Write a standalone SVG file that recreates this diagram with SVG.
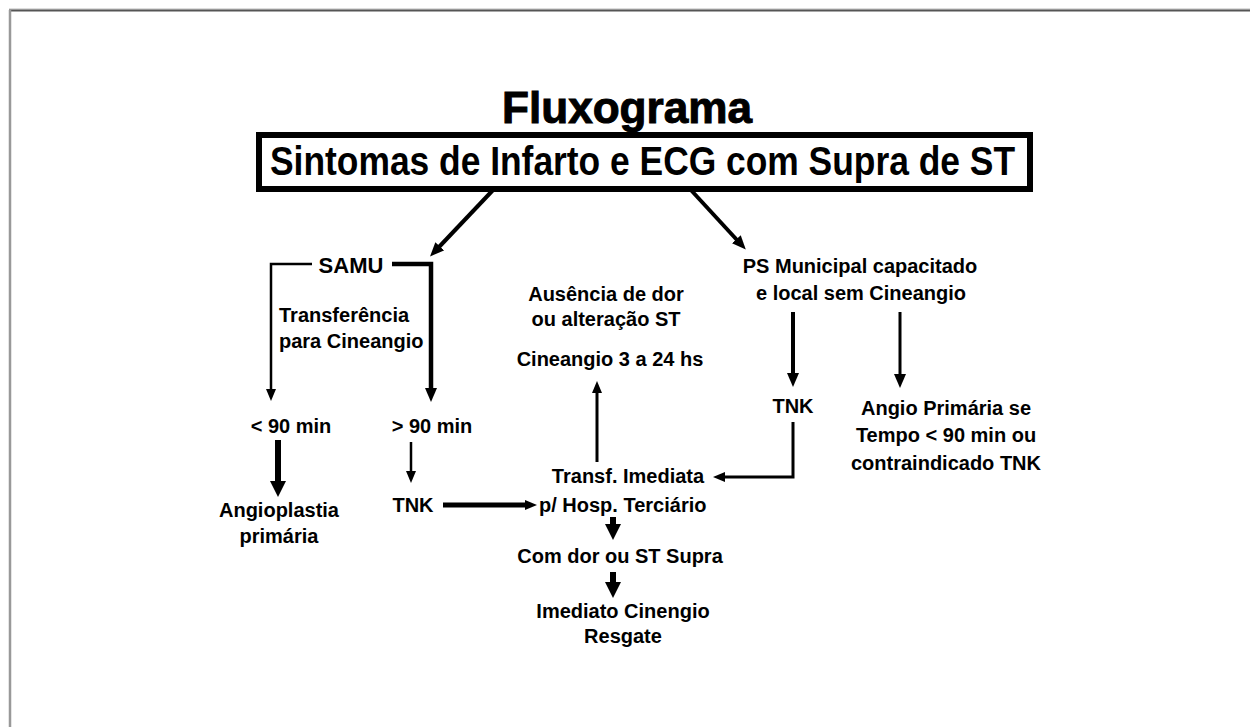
<svg xmlns="http://www.w3.org/2000/svg" width="1250" height="727" viewBox="0 0 1250 727">
<style>
text{font-family:"Liberation Sans",Arial,sans-serif;font-weight:bold;fill:#000;font-size:20px}
.c{text-anchor:middle}
.ln{fill:none;stroke:#000;stroke-linecap:butt;stroke-linejoin:miter}
</style>
<defs>
<marker id="as" markerUnits="userSpaceOnUse" viewBox="0 0 12 10" refX="1" refY="5" markerWidth="12" markerHeight="10" orient="auto"><path d="M0,0 L12,5 L0,10 z" fill="#000"/></marker>
<marker id="am" markerUnits="userSpaceOnUse" viewBox="0 0 14 12" refX="1" refY="6" markerWidth="14" markerHeight="12" orient="auto"><path d="M0,0 L14,6 L0,12 z" fill="#000"/></marker>
<marker id="al" markerUnits="userSpaceOnUse" viewBox="0 0 16 16" refX="1" refY="8" markerWidth="16" markerHeight="16" orient="auto"><path d="M0,0 L16,8 L0,16 z" fill="#000"/></marker>
</defs>
<rect width="1250" height="727" fill="#fff"/>
<g id="frame">
<line x1="9" y1="9" x2="1250" y2="9" stroke="#bbb" stroke-width="1"/>
<line x1="9" y1="10.5" x2="1250" y2="10.5" stroke="#555" stroke-width="2"/>
<line x1="10" y1="10" x2="10" y2="727" stroke="#999" stroke-width="2.5"/>
</g>
<g id="title"><text x="502" y="123" style="font-size:45px;stroke:#000;stroke-width:1" textLength="250" lengthAdjust="spacingAndGlyphs">Fluxograma</text></g>
<g id="box">
<rect x="259" y="135" width="771" height="54" fill="#fff" stroke="#000" stroke-width="6"/>
<text x="270" y="175" style="font-size:41px" textLength="745" lengthAdjust="spacingAndGlyphs">Sintomas de Infarto e ECG com Supra de ST</text>
</g>
<g id="connectors">
<line class="ln" x1="494" y1="189" x2="439" y2="247" stroke-width="4" marker-end="url(#am)"/>
<line class="ln" x1="690" y1="189" x2="737" y2="240" stroke-width="4" marker-end="url(#am)"/>
<polyline class="ln" points="312,264 271,264 271,390" stroke-width="2.5" marker-end="url(#as)"/>
<polyline class="ln" points="392,264 431,264 431,389" stroke-width="4.5" marker-end="url(#am)"/>
<line class="ln" x1="278" y1="440" x2="278" y2="482" stroke-width="6" marker-end="url(#al)"/>
<line class="ln" x1="411" y1="442" x2="411" y2="472" stroke-width="2.5" marker-end="url(#as)"/>
<line class="ln" x1="443" y1="505" x2="526" y2="505" stroke-width="5" marker-end="url(#as)"/>
<line class="ln" x1="597" y1="462" x2="597" y2="392" stroke-width="3" marker-end="url(#as)"/>
<polyline class="ln" points="793,422 793,477 724,477" stroke-width="3" marker-end="url(#as)"/>
<line class="ln" x1="613" y1="517" x2="613" y2="525" stroke-width="6" marker-end="url(#al)"/>
<line class="ln" x1="613" y1="572" x2="613" y2="583" stroke-width="6" marker-end="url(#al)"/>
<line class="ln" x1="793" y1="312" x2="793" y2="374" stroke-width="4" marker-end="url(#am)"/>
<line class="ln" x1="900" y1="312" x2="900" y2="375" stroke-width="3" marker-end="url(#am)"/>
</g>
<g id="samu"><text class="c" x="351" y="273" style="font-size:22px">SAMU</text></g>
<g id="transferencia"><text x="279" y="322">Transferência</text><text x="279" y="348">para Cineangio</text></g>
<g id="menos90"><text class="c" x="291" y="433">&lt; 90 min</text></g>
<g id="mais90"><text class="c" x="432" y="433">&gt; 90 min</text></g>
<g id="angioplastia"><text class="c" x="279" y="517">Angioplastia</text><text class="c" x="279" y="543">primária</text></g>
<g id="tnk1"><text class="c" x="413" y="512">TNK</text></g>
<g id="ausencia"><text class="c" x="606" y="301">Ausência de dor</text><text class="c" x="606" y="326">ou alteração ST</text></g>
<g id="cineangio"><text class="c" x="610" y="366">Cineangio 3 a 24 hs</text></g>
<g id="transf"><text class="c" x="628" y="483">Transf. Imediata</text><text x="539" y="512">p/ Hosp. Terciário</text></g>
<g id="comdor"><text class="c" x="620" y="563">Com dor ou ST Supra</text></g>
<g id="imediato"><text class="c" x="623" y="618">Imediato Cinengio</text><text class="c" x="623" y="643">Resgate</text></g>
<g id="ps"><text class="c" x="860" y="273">PS Municipal capacitado</text><text class="c" x="861" y="300">e local sem Cineangio</text></g>
<g id="tnk2"><text class="c" x="793" y="413">TNK</text></g>
<g id="angio"><text class="c" x="946" y="415">Angio Primária se</text><text class="c" x="946" y="442">Tempo &lt; 90 min ou</text><text class="c" x="946" y="470">contraindicado TNK</text></g>
</svg>
